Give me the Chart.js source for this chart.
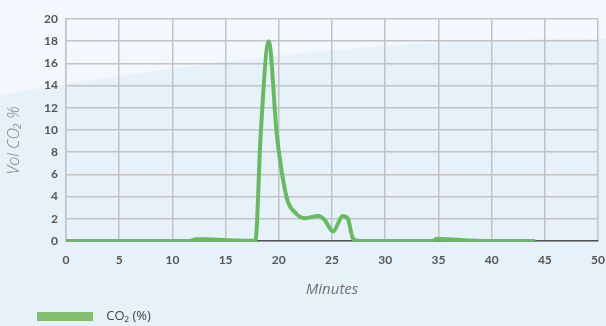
<!DOCTYPE html>
<html>
<head>
<meta charset="utf-8">
<script src="https://cdn.jsdelivr.net/npm/chart.js@4"></script>
<style>
  html, body { margin: 0; padding: 0; background: #e7f1fa; }
  #wrap { width: 606px; height: 326px; position: relative; }
</style>
</head>
<body>
<div id="wrap"><canvas id="c"></canvas></div>
<script>
// CO2 release curve
const MINUTES = [0, 5, 10, 11.6, 12.2, 13, 15, 17.8, 18.3, 19.05, 19.8, 20.2, 20.8, 21.6, 22.4, 23.7, 24.3, 25.1, 26.0, 26.5, 26.95, 27.6, 30, 34.4, 34.9, 36, 37.9, 40, 44.1];
const CO2 = [0, 0, 0, 0, 0.15, 0.15, 0.08, 0.03, 9.7, 18.0, 9.7, 6.7, 3.7, 2.5, 2.05, 2.25, 1.9, 0.85, 2.25, 2.0, 0.25, 0, 0, 0, 0.2, 0.15, 0.05, 0, 0];
const X_TICKS = [0, 5, 10, 15, 20, 25, 30, 35, 40, 45, 50];
const Y_TICKS = [0, 2, 4, 6, 8, 10, 12, 14, 16, 18, 20];

const GREEN = '#66bb5f';
const LEGEND_GREEN = '#82bf6e';

// pale backdrop with the lighter swoosh at the top
const backdrop = {
  id: 'backdrop',
  beforeDraw(chart) {
    const { ctx, width, height } = chart;
    ctx.save();
    ctx.fillStyle = '#e7f1fa';
    ctx.fillRect(0, 0, width, height);
    ctx.fillStyle = '#f3f7fe';
    ctx.beginPath();
    ctx.moveTo(0, 0);
    ctx.lineTo(0, 95);
    ctx.quadraticCurveTo(350, 35, width, 39);
    ctx.lineTo(width, 0);
    ctx.closePath();
    ctx.fill();
    ctx.restore();
  },
  // legend sits indented under the axis labels, a bit lower
  afterLayout(chart) {
    const lg = chart.legend;
    lg.left += 34; lg.right += 34;
    lg.top += 7; lg.bottom += 7;
  },
};

new Chart(document.getElementById('c'), {
  type: 'line',
  data: {
    datasets: [{
      label: 'CO₂ (%)',
      data: MINUTES.map((m, i) => ({ x: m, y: CO2[i] })),
      borderColor: GREEN,
      backgroundColor: LEGEND_GREEN,
      borderWidth: 4,
      pointRadius: 0,
      cubicInterpolationMode: 'monotone',
      fill: false,
    }],
  },
  options: {
    responsive: true,
    maintainAspectRatio: false,
    animation: false,
    layout: { padding: { left: 0, right: 7, top: 19, bottom: 0 } },
    plugins: {
      legend: {
        position: 'bottom',
        align: 'start',
        labels: {
          boxWidth: 56,
          boxHeight: 9,
          padding: 3,
          color: '#444',
          font: { family: 'Open Sans', size: 13 },
          generateLabels: (chart) => chart.data.datasets.map((d, i) => ({
            text: '  ' + d.label, fillStyle: LEGEND_GREEN, strokeStyle: LEGEND_GREEN, lineWidth: 0, datasetIndex: i,
            fontColor: '#444',
          })),
        },
      },
      tooltip: { enabled: false },
    },
    scales: {
      x: {
        type: 'linear',
        min: 0, max: 50,
        afterBuildTicks: (s) => { s.ticks = X_TICKS.map((v) => ({ value: v })); },
        afterFit: (s) => { s.height = 59; },
        grid: { color: '#c2c2c2', lineWidth: 1.5, drawTicks: true, tickLength: 11, tickColor: 'rgba(0,0,0,0)' },
        border: { color: '#555', width: 1.5 },
        ticks: { padding: 1, color: '#555', font: { family: 'Lato', size: 12, weight: 'bold' } },
        title: { display: true, text: 'Minutes', color: '#707070', padding: { top: 0, bottom: 1 }, font: { family: 'Open Sans', size: 15, style: 'italic' } },
      },
      y: {
        min: 0, max: 20,
        afterBuildTicks: (s) => { s.ticks = Y_TICKS.map((v) => ({ value: v })); },
        afterFit: (s) => { s.width = 66; },
        grid: { color: '#c2c2c2', lineWidth: 1.5, drawTicks: false },
        border: { color: '#c2c2c2', width: 1.5 },
        ticks: { padding: 8, color: '#555', font: { family: 'Lato', size: 12, weight: 'bold' } },
        // trailing spaces nudge the title a little below the axis centre, as in the reference
        title: { display: true, text: 'Vol CO₂ %     ', color: '#808080', padding: { top: 5, bottom: 0 }, font: { family: 'Open Sans', size: 16, style: 'italic', weight: 300 } },
      },
    },
  },
  plugins: [backdrop],
});
</script>
</body>
</html>
